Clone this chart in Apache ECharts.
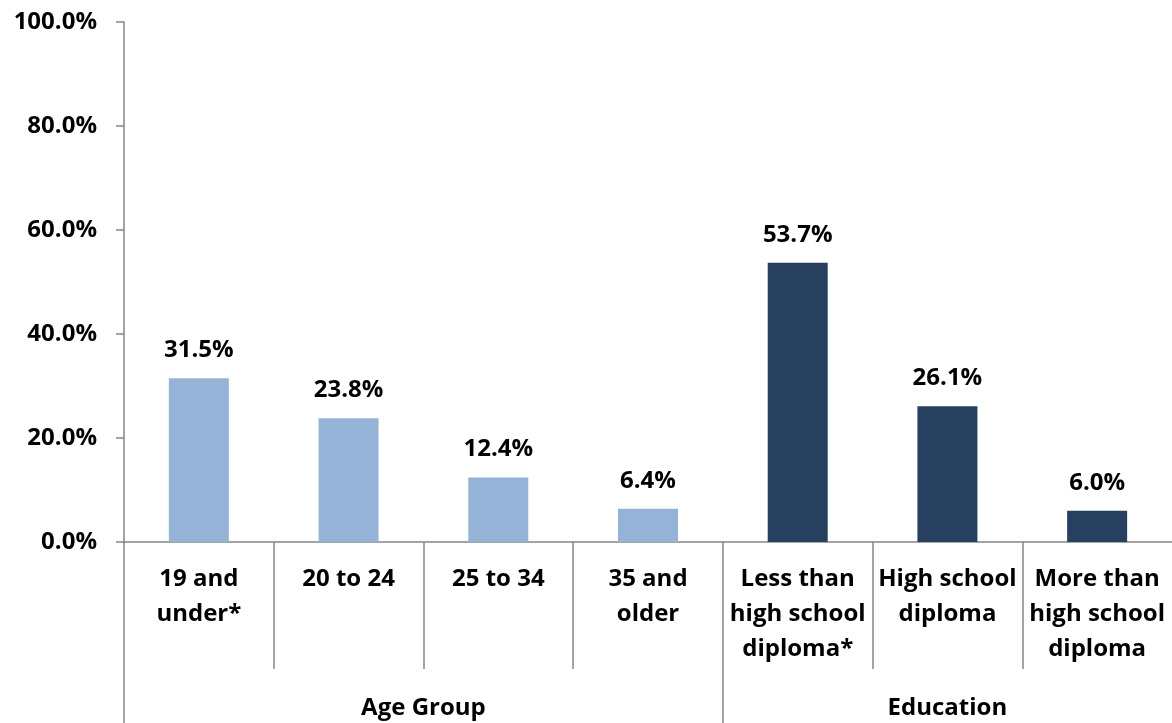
<!DOCTYPE html>
<html>
<head>
<meta charset="utf-8">
<script src="https://cdn.jsdelivr.net/npm/echarts@6/dist/echarts.min.js"></script>
<style>
  html, body { margin: 0; padding: 0; background: #fff; }
  #chart { width: 1172px; height: 723px; }
</style>
</head>
<body>
<div id="chart"></div>
<script>
// Category labels (first level) and their values, in percent
const categories = [
  '19 and\nunder*', '20 to 24', '25 to 34', '35 and\nolder',
  'Less than\nhigh school\ndiploma*', 'High school\ndiploma', 'More than\nhigh school\ndiploma'
];
const values = [31.5, 23.8, 12.4, 6.4, 53.7, 26.1, 6.0];

// Second-level groups and how many categories each spans
const groups = ['Age Group', 'Education'];
const groupSizes = [4, 3];
const groupColors = ['#95B3D7', '#27405F'];

// Y axis range
const yMin = 0, yMax = 100, yStep = 20;

const FONT = '"Open Sans", "Liberation Sans", sans-serif';
const AXIS_GRAY = '#868686';

// Group start positions and centres on a 0..N scale
const groupStarts = [0];
groupSizes.slice(0, -1).forEach(n => groupStarts.push(groupStarts[groupStarts.length - 1] + n));
const centres = groupSizes.map((n, i) => groupStarts[i] + n / 2);
// Left edges of the categories (separators)
const catStarts = categories.map((c, i) => i);

// Bar colour per category, from the group it belongs to
const barData = values.map((v, i) => {
  let g = 0;
  while (g + 1 < groupStarts.length && i >= groupStarts[g + 1]) g++;
  return { value: v, itemStyle: { color: groupColors[g] } };
});

const labelText = { color: '#000', fontFamily: FONT, fontWeight: 700, fontSize: 24 };

const chart = echarts.init(document.getElementById('chart'));
chart.setOption({
  animation: false,
  backgroundColor: '#fff',
  textStyle: { fontFamily: FONT },
  grid: { left: 124, right: 0, top: 22, bottom: 181 },
  xAxis: [
    {
      type: 'category',
      data: categories,
      axisLine: { show: true, lineStyle: { color: AXIS_GRAY, width: 1.5 } },
      axisTick: { show: false },
      axisLabel: Object.assign({ interval: 0, margin: 20, lineHeight: 35 }, labelText)
    },
    {
      // category separators, short
      type: 'value',
      min: 0, max: categories.length,
      position: 'bottom',
      axisLine: { show: false },
      splitLine: { show: false },
      axisTick: {
        show: true, length: 127, customValues: catStarts,
        lineStyle: { color: AXIS_GRAY, width: 1.5 }
      },
      axisLabel: { show: false }
    },
    {
      // group separators and group names
      type: 'value',
      min: 0, max: categories.length,
      position: 'bottom',
      axisLine: { show: false },
      splitLine: { show: false },
      axisTick: {
        show: true, length: 181, customValues: groupStarts,
        lineStyle: { color: AXIS_GRAY, width: 1.5 }
      },
      axisLabel: Object.assign({
        customValues: centres,
        formatter: v => groups[centres.indexOf(v)] || '',
        margin: 154
      }, labelText)
    }
  ],
  yAxis: {
    type: 'value',
    min: yMin, max: yMax, interval: yStep,
    axisLine: { show: true, lineStyle: { color: AXIS_GRAY, width: 1.5 } },
    axisTick: { show: true, length: 8, lineStyle: { color: AXIS_GRAY, width: 1.5 } },
    splitLine: { show: false },
    axisLabel: Object.assign({
      margin: 27,
      formatter: v => v.toFixed(1) + '%'
    }, labelText)
  },
  series: [{
    type: 'bar',
    xAxisIndex: 0,
    data: barData,
    barWidth: 60,
    label: Object.assign({
      show: true, position: 'top', distance: 16,
      formatter: p => p.value.toFixed(1) + '%'
    }, labelText)
  }]
});
</script>
</body>
</html>
